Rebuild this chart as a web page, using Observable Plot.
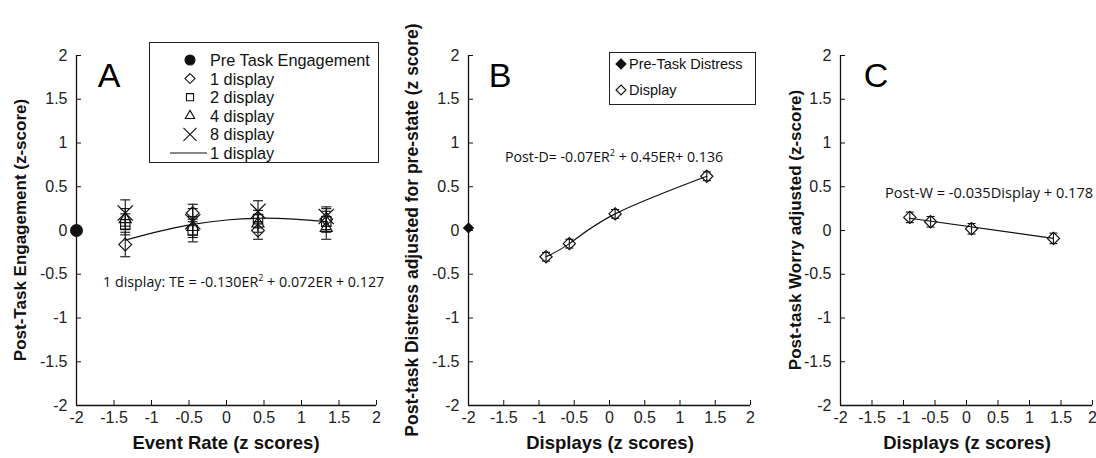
<!DOCTYPE html>
<html><head><meta charset="utf-8">
<script src="https://cdn.jsdelivr.net/npm/d3@7"></script>
<script src="https://cdn.jsdelivr.net/npm/@observablehq/plot@0.6"></script>
<style>
body{margin:0;background:#fff;}
#wrap{position:relative;width:1096px;height:458px;overflow:hidden;background:#fff;font-family:"Liberation Sans",Arial,sans-serif;color:#000;}
.abs{position:absolute;white-space:nowrap;line-height:1;}
.plotbox{position:absolute;top:0;}
.eq{font-family:"Open Sans","Noto Sans",sans-serif;font-size:14px;color:#111;}
.ttl{font-weight:bold;font-size:17px;color:#111;font-family:"Liberation Sans",Arial,sans-serif;}
.leg{position:absolute;border:1px solid #222;background:#fff;}
</style></head><body><div id="wrap"></div>
<script>
// ---------- data ----------
const tickVals = [-2, -1.5, -1, -0.5, 0, 0.5, 1, 1.5, 2];

// Panel A: Event rate (z) groups
const erX = [-1.35, -0.45, 0.42, 1.33];
const disp1 = [-0.16, 0.20, 0.00, 0.13];
const disp1Err = [0.14, 0.10, 0.10, 0.12];
const disp2 = [0.07, 0.00, 0.13, 0.10];
const disp2Err = [0.12, 0.13, 0.10, 0.12];
const disp4 = [0.13, 0.04, 0.08, 0.03];
const disp4Err = [0.12, 0.12, 0.10, 0.13];
const disp8 = [0.20, 0.10, 0.22, 0.16];
const disp8Err = [0.15, 0.15, 0.12, 0.11];
const preEngX = -2, preEngY = 0;
const fitAx = [-1.35, -0.9, -0.45, 0, 0.42, 0.9, 1.35];
const fitAy = [-0.11, -0.01, 0.07, 0.12, 0.14, 0.13, 0.10];

// Panel B: Displays (z)
const dispX = [-0.9, -0.57, 0.08, 1.38];
const distress = [-0.30, -0.15, 0.19, 0.62];
const distressErr = [0.05, 0.05, 0.05, 0.05];
const preDisX = -2, preDisY = 0.03;

// Panel C
const worry = [0.15, 0.10, 0.02, -0.09];
const worryErr = [0.06, 0.06, 0.06, 0.06];
const fitCx = [-0.9, 1.38];
const fitCy = [0.14, -0.09];

// ---------- helpers ----------
const wrap = document.getElementById("wrap");
function rows(xs, ys, es) { return xs.map((x, i) => ({x, y: ys[i], lo: ys[i] - (es ? es[i] : 0), hi: ys[i] + (es ? es[i] : 0)})); }
const cap = {draw(ctx, size) { const r = Math.sqrt(size / Math.PI); ctx.moveTo(-r, 0); ctx.lineTo(r, 0); }};
const fmt = d => String(d);

function axes() {
  return [
    Plot.ruleX([-2], {stroke: "#111", strokeWidth: 1.3}),
    Plot.ruleY([-2], {stroke: "#111", strokeWidth: 1.3}),
    Plot.axisX({ticks: tickVals, tickFormat: fmt, tickSize: -5, tickPadding: 11, fontSize: 16, label: null, fill: "#222", stroke: "#111"}),
    Plot.axisY({ticks: tickVals, tickFormat: fmt, tickSize: -5, tickPadding: 14, fontSize: 16, label: null, fill: "#222", stroke: "#111"})
  ];
}
function errMarks(data, r = 5) {
  return [
    Plot.ruleX(data, {x: "x", y1: "lo", y2: "hi", stroke: "#111", strokeWidth: 1.1}),
    Plot.dot(data, {x: "x", y: "lo", symbol: cap, r, stroke: "#111", strokeWidth: 1.1}),
    Plot.dot(data, {x: "x", y: "hi", symbol: cap, r, stroke: "#111", strokeWidth: 1.1})
  ];
}
function mount(plot, left) {
  const d = document.createElement("div");
  d.className = "plotbox"; d.style.left = left + "px";
  d.appendChild(plot); wrap.appendChild(d);
}
function text(html, x, y, cls, opts = {}) {
  const d = document.createElement("div");
  d.className = "abs " + (cls || "");
  d.innerHTML = html;
  d.style.left = x + "px"; d.style.top = y + "px";
  let tr = opts.anchor === "center" ? "translate(-50%,-50%)" : "translate(0,-50%)";
  if (opts.rotate) tr += " rotate(-90deg)";
  d.style.transform = tr;
  if (opts.style) Object.assign(d.style, opts.style);
  wrap.appendChild(d);
  return d;
}
const common = {height: 458, marginTop: 55, marginBottom: 53, x: {domain: [-2, 2]}, y: {domain: [-2, 2]},
  style: {overflow: "visible", background: "transparent", fontFamily: "'Liberation Sans', Arial, sans-serif"}};

// ---------- Panel A ----------
const r1 = rows(erX, disp1, disp1Err), r2 = rows(erX, disp2, disp2Err), r4 = rows(erX, disp4, disp4Err), r8 = rows(erX, disp8, disp8Err);
const plotA = Plot.plot({
  ...common, width: 390, marginLeft: 76, marginRight: 14,
  marks: [
    ...axes(),
    ...errMarks(r1), ...errMarks(r2), ...errMarks(r4), ...errMarks(r8),
    Plot.line(fitAx.map((x, i) => ({x, y: fitAy[i]})), {x: "x", y: "y", curve: "natural", stroke: "#111", strokeWidth: 1.2}),
    Plot.dot(r1, {x: "x", y: "y", symbol: "diamond2", r: 5.8, stroke: "#111", fill: "none", strokeWidth: 1.1}),
    Plot.dot(r2, {x: "x", y: "y", symbol: "square2", r: 6, stroke: "#111", fill: "none", strokeWidth: 1.1}),
    Plot.dot(r4, {x: "x", y: "y", symbol: "triangle2", r: 5.8, stroke: "#111", fill: "none", strokeWidth: 1.1}),
    Plot.dot(r8, {x: "x", y: "y", symbol: "times", r: 7, stroke: "#111", strokeWidth: 1.3}),
    Plot.dot([{x: preEngX, y: preEngY}], {x: "x", y: "y", r: 6.5, fill: "#111"})
  ]
});
mount(plotA, 0);

// ---------- Panel B ----------
const rB = rows(dispX, distress, distressErr);
const plotB = Plot.plot({
  ...common, width: 370, marginLeft: 78, marginRight: 10,
  marks: [
    ...axes(),
    Plot.line(rB, {x: "x", y: "y", curve: "natural", stroke: "#111", strokeWidth: 1.2}),
    ...errMarks(rB, 4),
    Plot.dot(rB, {x: "x", y: "y", symbol: "diamond2", r: 5.5, stroke: "#111", fill: "none", strokeWidth: 1.2}),
    Plot.dot([{x: preDisX, y: preDisY}], {x: "x", y: "y", symbol: "diamond2", r: 4.2, fill: "#111", stroke: "#111"})
  ]
});
mount(plotB, 390);

// ---------- Panel C ----------
const rC = rows(dispX, worry, worryErr);
const plotC = Plot.plot({
  ...common, width: 336, marginLeft: 80, marginRight: 4,
  marks: [
    ...axes(),
    Plot.line(fitCx.map((x, i) => ({x, y: fitCy[i]})), {x: "x", y: "y", stroke: "#111", strokeWidth: 1.2}),
    ...errMarks(rC, 4),
    Plot.dot(rC, {x: "x", y: "y", symbol: "diamond2", r: 5.5, stroke: "#111", fill: "none", strokeWidth: 1.2})
  ]
});
mount(plotC, 760);

// ---------- titles ----------
text("Post-Task Engagement (z-score)", 20, 230, "ttl", {anchor: "center", rotate: true});
text("Post-task Distress adjusted for pre-state (z score)", 413, 230, "ttl", {anchor: "center", rotate: true, style: {fontSize: "17.5px"}});
text("Post-task Worry adjusted (z-score)", 795, 230, "ttl", {anchor: "center", rotate: true});
text("Event Rate (z scores)", 226, 443, "ttl", {anchor: "center", style: {fontSize: "18.5px"}});
text("Displays (z scores)", 610, 443, "ttl", {anchor: "center", style: {fontSize: "18.5px"}});
text("Displays (z scores)", 967, 443, "ttl", {anchor: "center", style: {fontSize: "18.5px"}});
text("A", 109, 75, "", {anchor: "center", style: {fontSize: "34px"}});
text("B", 500, 75, "", {anchor: "center", style: {fontSize: "34px"}});
text("C", 876, 75, "", {anchor: "center", style: {fontSize: "34px"}});

// ---------- equations ----------
text("1 display: TE = -0.130ER<sup style='font-size:9px;vertical-align:6px'>2</sup> + 0.072ER + 0.127", 103, 281, "eq", {style: {fontSize: "14.3px"}});
text("Post-D= -0.07ER<sup style='font-size:9px;vertical-align:6px'>2</sup> + 0.45ER+ 0.136", 505, 156, "eq", {style: {fontSize: "14.2px"}});
text("Post-W = -0.035Display + 0.178", 885, 192, "eq", {style: {fontSize: "14.6px"}});

// ---------- legends ----------
function legendSymbol(svg, type, cx, cy, r, filled) {
  const sym = {circle: d3.symbolCircle, diamond: d3.symbolDiamond2, square: d3.symbolSquare2, triangle: d3.symbolTriangle2, times: d3.symbolTimes}[type];
  svg.append("path").attr("transform", `translate(${cx},${cy})`)
    .attr("d", d3.symbol(sym, r * r * Math.PI)())
    .attr("fill", filled ? "#111" : "none").attr("stroke", "#111").attr("stroke-width", 1.1);
}
// Legend A
const legA = document.createElement("div");
legA.className = "leg";
Object.assign(legA.style, {left: "149px", top: "42px", width: "228px", height: "119px"});
wrap.appendChild(legA);
const svgA = d3.select(wrap).append("svg").attr("width", 1096).attr("height", 458)
  .style("position", "absolute").style("left", 0).style("top", 0).style("pointer-events", "none");
const legARows = [
  {label: "Pre Task Engagement", type: "circle", filled: true, r: 5},
  {label: "1 display", type: "diamond", r: 4.5},
  {label: "2 display", type: "square", r: 4.5},
  {label: "4 display", type: "triangle", r: 4.5},
  {label: "8 display", type: "times", r: 6},
  {label: "1 display", type: "line"}
];
legARows.forEach((d, i) => {
  const cy = 60 + i * 18.6;
  if (d.type === "line") svgA.append("line").attr("x1", 170).attr("x2", 207).attr("y1", cy).attr("y2", cy).attr("stroke", "#111").attr("stroke-width", 1.1);
  else legendSymbol(svgA, d.type, 190, cy, d.r, d.filled);
  text(d.label, 210, cy, "", {style: {fontSize: "16.3px", color: "#111"}});
});
// Legend B
const legB = document.createElement("div");
legB.className = "leg";
Object.assign(legB.style, {left: "609px", top: "52px", width: "145px", height: "51px"});
wrap.appendChild(legB);
const svgB = d3.select(wrap).append("svg").attr("width", 1096).attr("height", 458)
  .style("position", "absolute").style("left", 0).style("top", 0).style("pointer-events", "none");
const legBRows = [
  {label: "Pre-Task Distress", filled: true},
  {label: "Display", filled: false}
];
legBRows.forEach((d, i) => {
  const cy = 64 + i * 26;
  legendSymbol(svgB, "diamond", 621, cy, 4.5, d.filled);
  text(d.label, 629, cy, "", {style: {fontSize: "14.5px", color: "#111"}});
});
</script></body></html>
